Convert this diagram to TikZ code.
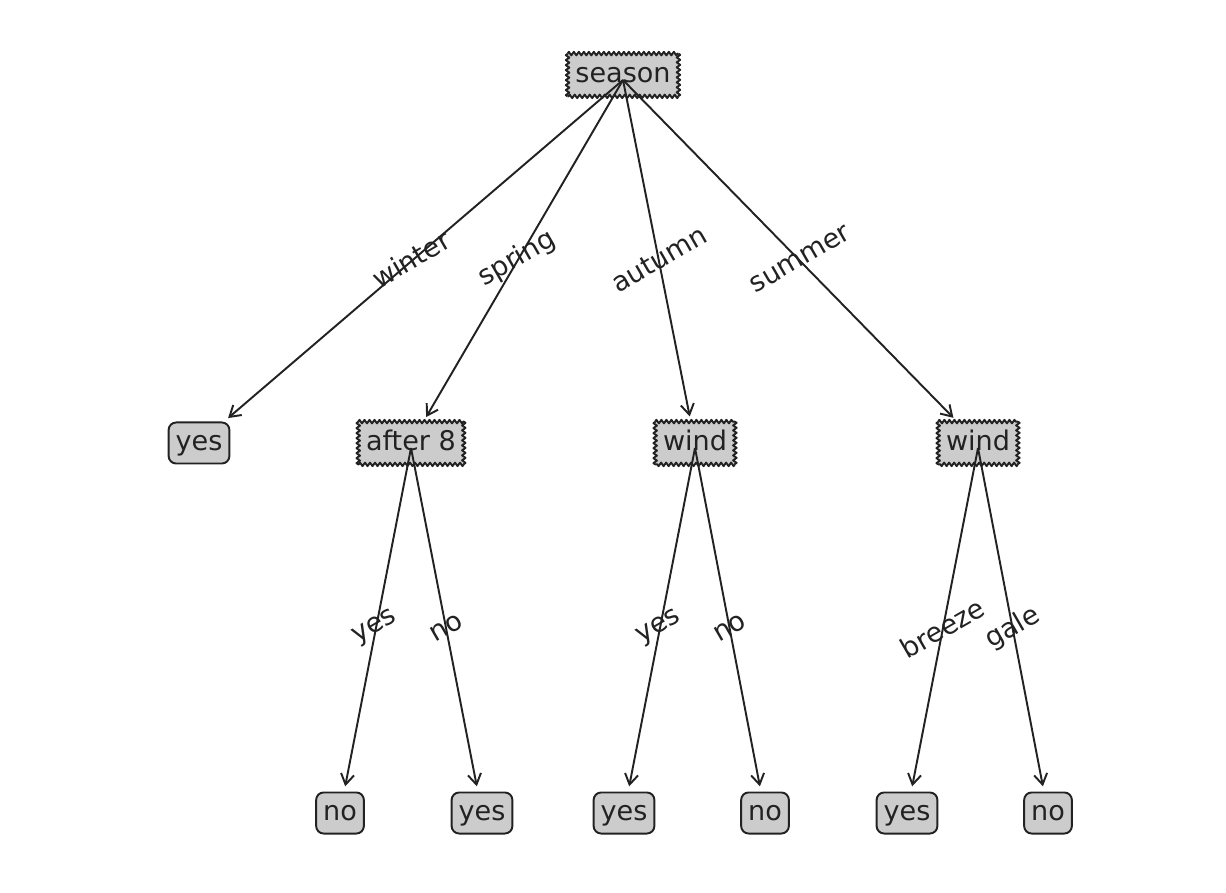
\documentclass[tikz,border=0pt]{standalone}
\usepackage{fontspec}
\setmainfont{DejaVu Sans}
\usetikzlibrary{decorations.pathmorphing,arrows.meta,calc}
\definecolor{boxgray}{HTML}{CCCCCC}
\definecolor{darktext}{HTML}{222222}

\begin{document}
\begin{tikzpicture}[font=\fontsize{15.4}{18}\selectfont,
  sawedge/.style={draw=darktext,line width=1.1pt,line join=round,decorate,
    decoration={zigzag,segment length=0.1cm,amplitude=0.035cm}},
  decision/.style={fill=boxgray,text=darktext,inner xsep=0.15cm,inner ysep=0.15cm,
    text height=11.7pt,text depth=3.7pt,
    append after command={(\tikzlastnode.north west) edge[sawedge] (\tikzlastnode.north east)
      (\tikzlastnode.north east) edge[sawedge] (\tikzlastnode.south east)
      (\tikzlastnode.south east) edge[sawedge] (\tikzlastnode.south west)
      (\tikzlastnode.south west) edge[sawedge] (\tikzlastnode.north west)}},
  leaf/.style={draw=darktext,line width=1.1pt,fill=boxgray,text=darktext,rounded corners=0.15cm,
    inner xsep=0.14cm,inner ysep=0.14cm,text height=11.7pt,text depth=3.7pt},
  link/.style={draw=darktext,line width=1.1pt,-{Straight Barb[length=6pt,width=7.5pt]},shorten >=3pt},
  edgelbl/.style={text=darktext,rotate=30,inner sep=0pt}]
% page frame, 1 px = 0.02 cm
\useasboundingbox (0,0) rectangle (24.52,17.84);

% root
\node[decision] (season) at (12.46,16.34) {season};
% second level
\node[leaf] (leafwinter) at (3.98,8.98) {yes};
\node[decision] (after8) at (8.22,8.98) {after 8};
\node[decision] (windA) at (13.90,8.98) {wind};
\node[decision] (windB) at (19.56,8.98) {wind};
% bottom level
\node[leaf] (leafAyes) at (6.80,1.58) {no};
\node[leaf] (leafAno) at (9.64,1.58) {yes};
\node[leaf] (leafByes) at (12.48,1.58) {yes};
\node[leaf] (leafBno) at (15.30,1.58) {no};
\node[leaf] (leafCbreeze) at (18.14,1.58) {yes};
\node[leaf] (leafCgale) at (20.96,1.58) {no};

% arrow tails sit a little below the parent centre
\coordinate (season-o) at ([yshift=-0.1cm]season.center);
\coordinate (after8-o) at ([yshift=-0.1cm]after8.center);
\coordinate (windA-o) at ([yshift=-0.1cm]windA.center);
\coordinate (windB-o) at ([yshift=-0.1cm]windB.center);

\draw[link] (season-o) -- (leafwinter);
\draw[link] (season-o) -- (after8);
\draw[link] (season-o) -- (windA);
\draw[link] (season-o) -- (windB);
\draw[link] (after8-o) -- (leafAyes);
\draw[link] (after8-o) -- (leafAno);
\draw[link] (windA-o) -- (leafByes);
\draw[link] (windA-o) -- (leafBno);
\draw[link] (windB-o) -- (leafCbreeze);
\draw[link] (windB-o) -- (leafCgale);

% branch labels at the middle of each link
\node[edgelbl] (lblwinter) at ($(season)!0.5!(leafwinter)$) {winter};
\node[edgelbl] (lblspring) at ($(season)!0.5!(after8)$) {spring};
\node[edgelbl] (lblautumn) at ($(season)!0.5!(windA)$) {autumn};
\node[edgelbl] (lblsummer) at ($(season)!0.5!(windB)$) {summer};
\node[edgelbl] (lblAyes) at ($(after8)!0.5!(leafAyes)$) {yes};
\node[edgelbl] (lblAno) at ($(after8)!0.5!(leafAno)$) {no};
\node[edgelbl] (lblByes) at ($(windA)!0.5!(leafByes)$) {yes};
\node[edgelbl] (lblBno) at ($(windA)!0.5!(leafBno)$) {no};
\node[edgelbl] (lblCbreeze) at ($(windB)!0.5!(leafCbreeze)$) {breeze};
\node[edgelbl] (lblCgale) at ($(windB)!0.5!(leafCgale)$) {gale};
\end{tikzpicture}
\end{document}
